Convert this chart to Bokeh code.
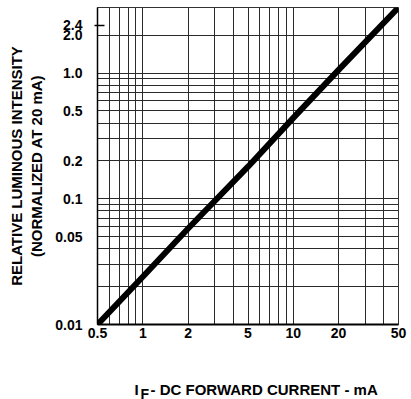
from bokeh.plotting import figure
from bokeh.models import FixedTicker, Label, Range1d
from bokeh.layouts import column
from bokeh.embed import file_html
from bokeh.resources import INLINE

# ---- data ----
current_mA = [0.5, 1, 2, 5, 10, 20, 50]
rel_intensity = [0.01, 0.024, 0.058, 0.18, 0.44, 1.06, 3.32]

x_tick_values = [0.5, 1, 2, 5, 10, 20, 50]
x_tick_labels = ["0.5", "1", "2", "5", "10", "20", "50"]
x_grid_values = [0.5, 0.6, 0.7, 0.8, 0.9, 1, 2, 3, 4, 5, 6, 7, 8, 9, 10, 20, 30, 40, 50]

y_tick_values = [0.01, 0.05, 0.1, 0.2, 0.5, 1.0, 2.0, 2.4]
y_tick_labels = ["0.01", "0.05", "0.1", "0.2", "0.5", "1.0", "2.0", "2.4"]
y_grid_values = [0.01, 0.02, 0.03, 0.04, 0.05, 0.06, 0.07, 0.08, 0.09,
                 0.1, 0.2, 0.3, 0.4, 0.5, 0.6, 0.7, 0.8, 0.9, 1.0, 2.0]
y_short_tick = [2.4]

x_start, x_end = 0.5, 50
y_start, y_end = 0.01, 3.32

y_title = "RELATIVE LUMINOUS INTENSITY\n(NORMALIZED AT 20 mA)"
x_title_main = "I"
x_title_sub = "F"
x_title_rest = "- DC FORWARD CURRENT - mA"

FONT = "Liberation Sans"
W = 411
H_MAIN = 348
H_TITLE = 51
B_LEFT, B_RIGHT = 97, 13

p = figure(width=W, height=H_MAIN,
           x_axis_type="log", y_axis_type="log",
           x_range=Range1d(x_start, x_end), y_range=Range1d(y_start, y_end),
           output_backend="svg", toolbar_location=None,
           min_border_left=B_LEFT, min_border_right=B_RIGHT,
           min_border_top=7, min_border_bottom=24)

p.background_fill_color = "white"
p.border_fill_color = "white"
p.outline_line_color = "#333333"
p.outline_line_width = 1

# grids
p.xgrid.ticker = FixedTicker(ticks=x_grid_values)
p.ygrid.ticker = FixedTicker(ticks=y_grid_values)
for g in (p.xgrid, p.ygrid):
    g.grid_line_color = "#2a2a2a"
    g.grid_line_width = 1
    g.grid_line_alpha = 1.0

# x axis
xa = p.xaxis[0]
xa.ticker = FixedTicker(ticks=x_tick_values)
xa.major_label_overrides = {v: s for v, s in zip(x_tick_values, x_tick_labels)}
xa.major_tick_in = 0
xa.major_tick_out = 0
xa.minor_tick_in = 0
xa.minor_tick_out = 0
xa.axis_line_color = "black"
xa.axis_line_width = 2
xa.major_label_standoff = 3
xa.major_label_text_font = FONT
xa.major_label_text_font_style = "bold"
xa.major_label_text_font_size = "14px"
xa.major_label_text_color = "black"

# y axis
ya = p.yaxis[0]
ya.ticker = FixedTicker(ticks=y_tick_values, minor_ticks=y_short_tick)
ya.major_label_overrides = {v: s for v, s in zip(y_tick_values, y_tick_labels)}
ya.major_tick_in = 0
ya.major_tick_out = 0
ya.minor_tick_in = 7
ya.minor_tick_out = 3
ya.minor_tick_line_color = "black"
ya.minor_tick_line_width = 1.5
ya.axis_line_color = "black"
ya.axis_line_width = 1.5
ya.major_label_standoff = 12
ya.major_label_text_font = FONT
ya.major_label_text_font_style = "bold"
ya.major_label_text_font_size = "14px"
ya.major_label_text_color = "black"
ya.axis_label = y_title
ya.axis_label_text_font = FONT
ya.axis_label_text_font_style = "bold"
ya.axis_label_text_font_size = "15px"
ya.axis_label_text_color = "black"
ya.axis_label_standoff = 7
ya.axis_label_text_line_height = 1.2

# data line
p.line(current_mA, rel_intensity, line_width=6, line_color="black")

# x axis title (with subscript) in a strip below the chart; its frame lines up
# with the chart frame, coordinates are pixels from the frame's left edge
frame_w = W - B_LEFT - B_RIGHT
t = figure(width=W, height=H_TITLE, x_range=Range1d(0, frame_w), y_range=Range1d(0, H_TITLE),
           output_backend="svg", toolbar_location=None,
           x_axis_location=None, y_axis_location=None,
           min_border_left=B_LEFT, min_border_right=B_RIGHT,
           min_border_top=0, min_border_bottom=0)
t.grid.visible = False
t.outline_line_color = None
t.background_fill_color = "white"
t.border_fill_color = "white"

common = dict(text_font=FONT, text_font_style="bold", text_color="black",
              text_baseline="alphabetic")
t.add_layout(Label(x=37, y=10, text=x_title_main, text_font_size="15px", **common))
t.add_layout(Label(x=43, y=6, text=x_title_sub, text_font_size="14px", **common))
t.add_layout(Label(x=53, y=10, text=x_title_rest, text_font_size="15px", **common))

layout = column(p, t, spacing=0)
open("out.html", "w").write(file_html(layout, INLINE))
